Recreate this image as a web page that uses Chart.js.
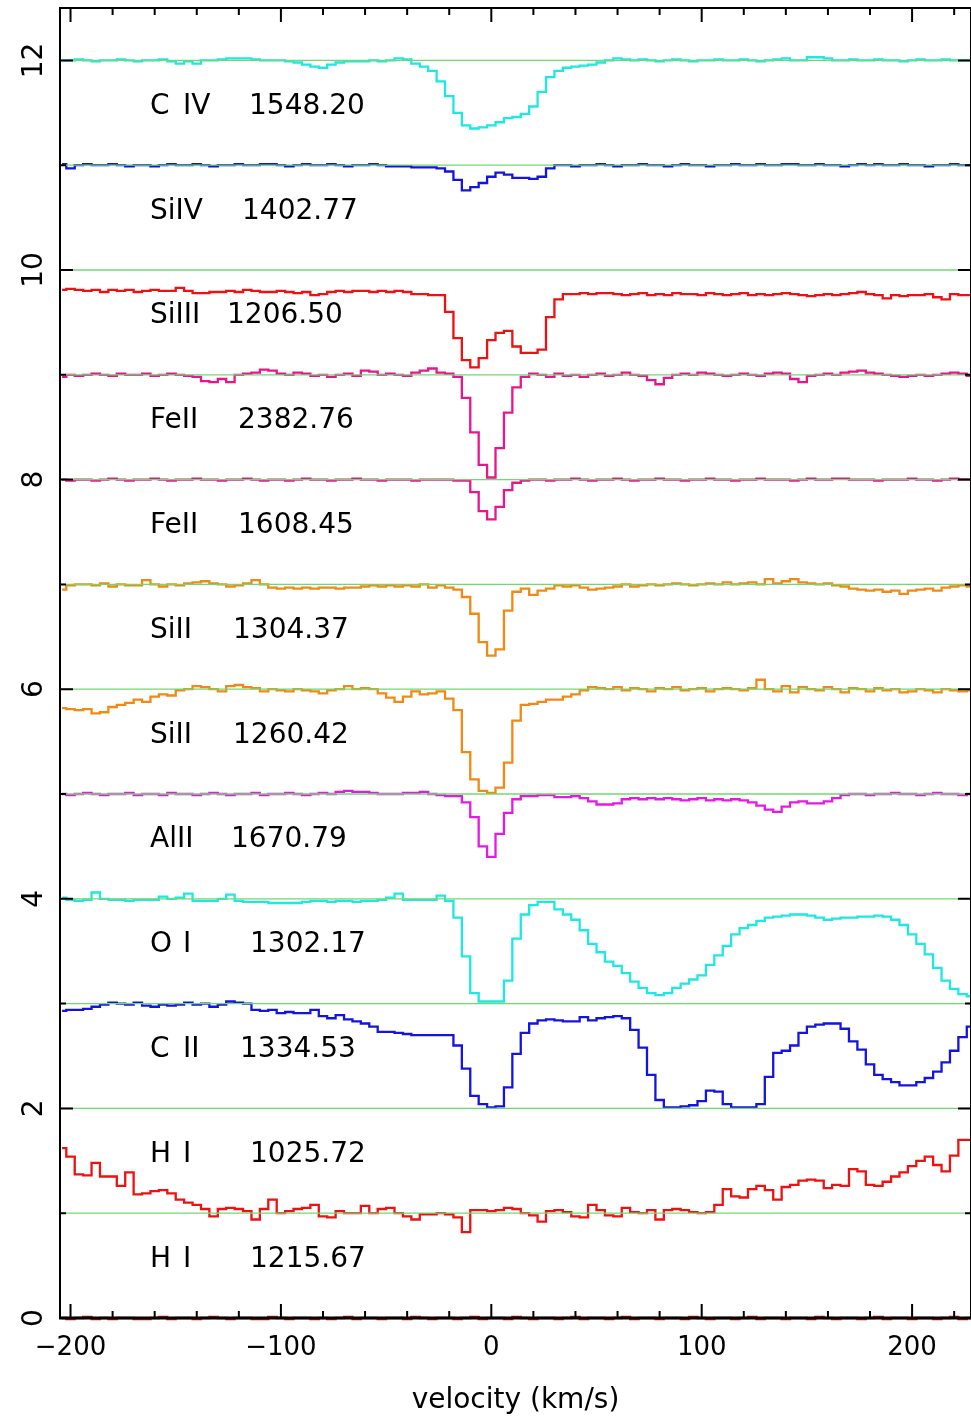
<!DOCTYPE html>
<html><head><meta charset="utf-8">
<script src="https://cdn.jsdelivr.net/npm/chart.js@4.4.1/dist/chart.umd.min.js"></script>
<style>html,body{margin:0;padding:0;background:#fff;}#c{display:block;}</style>
</head><body>
<canvas id="c" width="971" height="1416"></canvas>
<script>
// ---------------- DATA ----------------
const velocity = [-204,-200,-196,-192,-188,-184,-180,-176,-172,-168,
-164,-160,-156,-152,-148,-144,-140,-136,-132,-128,
-124,-120,-116,-112,-108,-104,-100,-96,-92,-88,
-84,-80,-76,-72,-68,-64,-60,-56,-52,-48,
-44,-40,-36,-32,-28,-24,-20,-16,-12,-8,
-4,0,4,8,12,16,20,24,28,32,
36,40,44,48,52,56,60,64,68,72,
76,80,84,88,92,96,100,104,108,112,
116,120,124,128,132,136,140,144,148,152,
156,160,164,168,172,176,180,184,188,192,
196,200,204,208,212,216,220,224,228];

const fluxCIV = [1.00,1.00,1.01,1.00,0.99,1.00,1.00,1.01,1.00,0.99,
1.00,1.00,1.01,0.99,0.97,0.99,0.97,1.00,1.00,1.01,
1.02,1.02,1.02,1.01,1.00,1.00,1.00,0.99,0.98,0.96,
0.94,0.93,0.96,0.98,0.99,0.99,0.99,1.00,0.99,1.00,
1.02,1.01,0.97,0.94,0.90,0.80,0.66,0.50,0.38,0.35,
0.36,0.38,0.41,0.45,0.46,0.49,0.56,0.70,0.84,0.90,
0.93,0.94,0.95,0.96,0.98,1.00,1.02,1.01,1.00,1.01,
1.00,0.99,1.00,1.01,1.00,0.99,1.00,1.00,1.01,1.00,
1.00,1.01,1.00,0.99,1.00,1.01,1.02,1.00,1.00,1.03,
1.03,1.02,1.00,1.00,1.01,1.00,1.00,1.01,1.00,1.00,
0.99,1.00,1.01,1.00,1.00,1.01,1.00,1.00,1.00];

const fluxSiIV = [1.01,0.97,1.00,1.01,1.00,1.00,1.01,1.00,0.99,1.00,
1.00,0.99,1.00,1.01,1.00,1.00,1.01,1.00,0.99,1.00,
1.00,1.01,1.00,1.00,1.01,1.01,1.00,0.99,1.00,1.01,
1.00,1.00,1.01,1.00,0.99,1.00,1.00,1.01,1.00,0.99,
0.99,0.99,0.98,0.98,0.98,0.97,0.94,0.86,0.76,0.79,
0.83,0.89,0.93,0.91,0.88,0.88,0.87,0.89,0.97,1.00,
1.00,0.99,1.00,1.00,1.01,1.00,0.99,1.00,1.00,1.01,
1.00,1.00,0.99,1.00,1.01,1.00,1.00,0.99,1.00,1.00,
1.01,1.00,1.00,1.01,1.00,1.00,1.01,1.01,1.00,1.00,
1.01,1.00,1.00,0.99,1.00,1.01,1.00,1.01,1.00,1.00,
1.01,1.00,1.00,0.99,1.00,1.00,1.01,1.00,1.00];

const fluxSiIII = [0.81,0.82,0.81,0.80,0.81,0.79,0.81,0.80,0.81,0.79,
0.80,0.81,0.80,0.80,0.83,0.80,0.78,0.78,0.79,0.79,
0.80,0.79,0.81,0.80,0.79,0.79,0.80,0.79,0.78,0.79,
0.76,0.77,0.79,0.80,0.79,0.80,0.80,0.79,0.80,0.79,
0.80,0.79,0.77,0.77,0.76,0.76,0.60,0.35,0.14,0.07,
0.16,0.33,0.40,0.42,0.27,0.21,0.21,0.24,0.55,0.72,
0.77,0.77,0.78,0.77,0.78,0.78,0.77,0.76,0.77,0.78,
0.76,0.77,0.76,0.78,0.77,0.77,0.76,0.78,0.77,0.76,
0.77,0.78,0.76,0.77,0.76,0.77,0.78,0.77,0.76,0.75,
0.76,0.77,0.76,0.77,0.78,0.79,0.77,0.76,0.73,0.76,
0.75,0.76,0.76,0.77,0.74,0.72,0.77,0.76,0.76];

const fluxFeII2382 = [0.98,1.00,0.99,1.00,1.01,1.00,0.99,1.01,1.00,1.00,
1.01,0.99,1.00,1.01,1.00,0.99,0.98,0.94,0.93,0.96,
0.93,1.00,1.01,1.02,1.05,1.04,1.01,1.00,1.02,1.01,
0.99,1.00,0.98,1.00,1.01,0.99,1.04,1.03,1.00,1.01,
1.00,0.99,1.02,1.04,1.06,1.02,1.01,0.98,0.78,0.45,
0.14,0.02,0.30,0.64,0.88,0.98,1.01,1.00,0.98,1.01,
0.99,1.00,0.98,1.00,1.01,0.99,1.00,1.02,1.00,0.99,
0.95,0.91,0.97,1.00,1.01,1.00,1.02,1.01,1.00,0.99,
1.00,1.01,1.00,0.99,1.01,1.02,1.01,0.96,0.93,0.99,
1.00,1.01,1.00,1.02,1.03,1.04,1.02,1.01,1.00,0.99,
0.98,0.99,1.00,0.99,1.00,1.01,1.02,1.01,0.99];

const fluxFeII1608 = [1.00,0.99,1.00,1.00,0.99,1.00,1.01,1.00,0.99,1.00,
1.00,1.01,1.00,0.99,1.00,1.00,1.01,1.00,1.00,0.99,
1.00,1.00,1.01,1.00,0.99,1.00,1.00,0.99,1.00,1.01,
1.00,1.00,0.99,1.00,1.00,1.01,1.00,1.00,0.99,1.00,
1.00,1.00,0.99,1.00,1.00,1.00,1.00,0.99,0.99,0.88,
0.70,0.62,0.74,0.90,0.97,0.99,1.00,1.00,0.99,1.00,
1.00,1.01,1.00,0.99,1.00,1.00,1.01,1.00,0.99,1.00,
1.00,1.01,1.00,1.00,0.99,1.00,1.00,1.01,1.00,1.00,
0.99,1.00,1.00,1.01,1.00,1.00,1.00,0.99,1.00,1.01,
1.00,1.00,1.01,1.01,1.00,1.00,1.00,0.99,1.00,1.00,
1.00,1.01,1.00,1.00,0.99,1.00,1.01,1.00,1.00];

const fluxSiII1304 = [0.95,0.99,1.00,1.00,0.99,1.01,0.98,1.00,0.99,0.99,
1.04,1.00,0.98,1.00,0.99,1.01,1.02,1.03,1.01,1.00,
0.98,0.99,1.01,1.04,1.00,0.97,0.96,0.97,0.96,0.97,
0.96,0.97,0.97,0.96,0.97,0.97,0.98,0.99,0.98,0.99,
0.98,0.99,0.98,1.00,0.97,0.99,0.97,0.95,0.88,0.72,
0.45,0.32,0.38,0.75,0.93,0.96,0.90,0.94,0.96,0.99,
0.98,0.99,0.97,0.95,0.96,0.97,0.98,1.00,0.98,0.99,
1.00,0.99,1.00,1.01,1.00,0.99,1.00,1.01,1.00,1.02,
1.00,1.01,1.02,1.00,1.05,1.01,1.03,1.05,1.02,1.01,
1.00,1.01,0.99,0.98,0.96,0.95,0.94,0.95,0.93,0.94,
0.91,0.94,0.95,0.96,0.94,0.97,0.98,0.99,0.98];

const fluxSiII1260 = [0.82,0.81,0.80,0.81,0.77,0.78,0.83,0.85,0.87,0.90,
0.88,0.93,0.95,0.94,0.99,1.00,1.03,1.02,1.00,0.98,
1.03,1.04,1.02,1.01,0.98,1.00,0.99,0.98,1.00,0.99,
0.98,0.96,0.99,1.00,1.03,1.00,1.01,1.00,0.96,0.92,
0.88,0.93,0.98,0.95,0.96,0.98,0.91,0.80,0.40,0.14,
0.03,0.01,0.06,0.30,0.70,0.85,0.86,0.88,0.90,0.90,
0.93,0.95,0.99,1.02,1.01,1.00,1.02,0.99,1.01,1.00,
0.98,1.01,1.00,1.02,0.99,1.00,1.01,0.98,1.00,1.01,
1.00,0.99,1.01,1.09,1.00,0.98,1.03,0.97,1.02,1.00,
0.99,1.02,1.00,0.97,1.01,1.00,0.98,1.01,0.99,1.00,
0.97,0.98,1.00,0.99,0.97,1.00,0.99,0.98,0.99];

const fluxAlII = [1.00,0.99,1.00,1.01,1.00,0.99,1.00,1.00,1.01,0.99,
1.00,1.00,0.99,1.01,1.00,1.00,0.99,1.00,1.01,1.00,
0.99,1.00,1.00,1.01,0.99,1.00,1.00,1.01,1.00,0.99,
1.00,1.01,1.00,1.02,1.03,1.02,1.02,1.01,1.00,1.00,
1.00,1.01,1.01,1.02,1.00,0.99,0.98,0.98,0.92,0.78,
0.50,0.40,0.62,0.82,0.95,0.98,0.98,0.99,0.99,0.97,
0.97,0.98,0.96,0.93,0.90,0.90,0.91,0.95,0.96,0.95,
0.96,0.95,0.96,0.95,0.94,0.95,0.96,0.94,0.95,0.94,
0.95,0.94,0.92,0.89,0.85,0.83,0.88,0.92,0.93,0.91,
0.91,0.93,0.96,0.99,1.00,1.00,0.99,1.00,1.00,1.01,
1.00,1.00,0.99,1.00,1.01,1.00,1.00,0.99,1.00];

const fluxOI = [1.01,0.99,0.98,0.99,1.06,1.00,0.99,0.99,0.98,0.99,
0.99,0.99,1.02,1.00,1.01,1.05,0.98,0.98,0.98,1.00,
1.04,0.98,0.97,0.97,0.97,0.96,0.96,0.96,0.96,0.97,
0.98,0.98,0.97,0.98,0.98,0.97,0.98,0.98,0.99,1.01,
1.05,0.99,0.99,0.99,0.99,1.03,0.98,0.82,0.45,0.10,
0.02,0.02,0.02,0.22,0.62,0.85,0.94,0.97,0.97,0.90,
0.85,0.80,0.70,0.57,0.49,0.40,0.36,0.29,0.21,0.15,
0.10,0.08,0.10,0.15,0.19,0.23,0.27,0.37,0.46,0.55,
0.66,0.72,0.75,0.79,0.82,0.83,0.84,0.85,0.85,0.84,
0.82,0.80,0.81,0.82,0.82,0.83,0.83,0.84,0.83,0.80,
0.75,0.66,0.57,0.47,0.34,0.22,0.14,0.09,0.07];

const fluxCII = [0.93,0.94,0.94,0.95,0.97,0.99,1.01,1.00,0.99,1.01,
0.98,0.97,0.99,0.98,0.99,1.01,0.99,1.00,0.97,0.99,
1.02,1.01,1.00,0.94,0.93,0.94,0.91,0.92,0.91,0.91,
0.94,0.88,0.86,0.89,0.85,0.83,0.81,0.78,0.73,0.73,
0.72,0.71,0.70,0.70,0.70,0.70,0.70,0.60,0.38,0.12,
0.04,0.01,0.02,0.20,0.52,0.72,0.81,0.84,0.85,0.84,
0.83,0.83,0.87,0.84,0.86,0.87,0.88,0.86,0.75,0.58,
0.32,0.08,0.01,0.01,0.02,0.03,0.07,0.17,0.16,0.04,
0.01,0.01,0.01,0.04,0.30,0.53,0.55,0.60,0.72,0.78,
0.80,0.81,0.81,0.76,0.64,0.56,0.42,0.32,0.28,0.25,
0.22,0.22,0.25,0.29,0.35,0.44,0.55,0.68,0.78];

const fluxHI1025 = [0.62,0.54,0.37,0.36,0.48,0.35,0.35,0.26,0.39,0.18,
0.19,0.21,0.22,0.19,0.13,0.10,0.08,0.04,-0.03,0.04,
0.05,0.04,0.02,-0.06,0.04,0.13,0.00,0.02,0.04,0.05,
0.08,-0.03,-0.04,0.02,0.00,0.00,0.07,0.00,0.04,0.05,
0.00,-0.03,-0.06,-0.01,-0.01,0.00,-0.01,-0.04,-0.18,0.03,
0.03,0.02,0.03,0.05,0.04,0.00,-0.02,-0.08,0.02,0.03,
0.01,-0.03,-0.04,0.08,0.03,-0.02,-0.03,0.05,0.01,0.00,
0.03,-0.06,0.03,0.04,0.03,0.01,0.00,0.01,0.08,0.23,
0.16,0.15,0.23,0.26,0.22,0.13,0.25,0.27,0.31,0.32,
0.31,0.24,0.27,0.26,0.42,0.40,0.27,0.26,0.30,0.35,
0.39,0.45,0.50,0.54,0.46,0.40,0.55,0.70,0.70];

const fluxHI1215 = [0.00,-0.01,0.00,0.01,-0.01,0.00,-0.01,0.00,0.00,-0.01,
-0.01,0.00,0.01,-0.01,0.00,0.00,-0.01,0.00,0.01,0.00,
-0.01,0.00,0.00,-0.01,-0.01,0.01,0.00,-0.01,0.00,0.00,
-0.01,0.00,-0.01,0.00,0.01,-0.01,0.00,0.00,-0.01,0.00,
0.00,-0.01,0.01,0.00,-0.01,0.00,0.00,-0.01,0.00,0.01,
-0.01,0.00,0.00,-0.01,0.01,0.00,-0.01,0.00,0.00,-0.01,
0.00,0.01,-0.01,0.00,0.00,-0.01,0.00,0.01,-0.01,0.00,
0.00,-0.01,0.00,0.00,-0.01,0.01,0.00,-0.01,0.00,0.00,
-0.01,0.00,0.01,-0.01,0.00,0.00,-0.01,0.00,0.00,-0.01,
0.01,0.00,-0.01,0.00,0.00,-0.01,0.00,0.01,-0.01,0.00,
0.00,-0.01,0.00,0.00,-0.01,0.00,0.01,-0.01,0.00];

const ions = ['C IV','SiIV','SiIII','FeII','FeII','SiII','SiII','AlII','O I','C II','H I','H I'];
const wavelengths = ['1548.20','1402.77','1206.50','2382.76','1608.45','1304.37','1260.42','1670.79','1302.17','1334.53','1025.72','1215.67'];
const zeroLevels = [11,10,9,8,7,6,5,4,3,2,1,0];
const continuumLevels = [1,2,3,4,5,6,7,8,9,10,11,12];
const xTickValues = [-200,-180,-160,-140,-120,-100,-80,-60,-40,-20,0,20,40,60,80,100,120,140,160,180,200,220];
const xLabelValues = [-200,-100,0,100,200];
const yTickValues = [0,1,2,3,4,5,6,7,8,9,10,11,12];
const yLabelValues = [0,2,4,6,8,10,12];

// ---------------- STYLE ----------------
const fluxes = [fluxCIV,fluxSiIV,fluxSiIII,fluxFeII2382,fluxFeII1608,fluxSiII1304,fluxSiII1260,fluxAlII,fluxOI,fluxCII,fluxHI1025,fluxHI1215];
const CYAN='#1ee8e2', BLUE='#1414e0', RED='#ee1111', PINK='#e8168c', ORANGE='#f08a14', MAG='#e41ae4';
const colors = [CYAN,BLUE,RED,PINK,PINK,ORANGE,ORANGE,MAG,CYAN,BLUE,RED,RED];
const waveX = [250,243,228,239,239,234,234,232,251,241,251,251];
const FONT = '"DejaVu Sans", sans-serif';

const datasets = [];
continuumLevels.forEach(lv => datasets.push({
  data:[{x:-205,y:lv},{x:228,y:lv}],
  borderColor:'#72d872', borderWidth:1.3, pointRadius:0, tension:0
}));
fluxes.forEach((f,k) => datasets.push({
  data: velocity.map((v,i)=>({x:v, y:zeroLevels[k]+f[i]})),
  borderColor: colors[k], borderWidth:2.3, pointRadius:0,
  stepped:'middle', clip:4
}));

const decor = {
  id:'decor',
  afterDatasetsDraw(chart){
    const {ctx, chartArea:a, scales:{x,y}} = chart;
    ctx.save();
    ctx.strokeStyle='#000';
    ctx.lineWidth=2;
    ctx.strokeRect(a.left, a.top, a.right-a.left, a.bottom-a.top);
    ctx.lineWidth=3;
    ctx.beginPath(); ctx.moveTo(a.left-1,a.bottom); ctx.lineTo(a.right,a.bottom); ctx.stroke();
    ctx.lineWidth=2;
    ctx.beginPath();
    xTickValues.forEach(t=>{
      const px=x.getPixelForValue(t);
      const len = xLabelValues.includes(t)?14:7;
      ctx.moveTo(px,a.top); ctx.lineTo(px,a.top+len);
      ctx.moveTo(px,a.bottom); ctx.lineTo(px,a.bottom-len);
    });
    yTickValues.forEach(t=>{
      const py=y.getPixelForValue(t);
      const len = yLabelValues.includes(t)?13:6;
      ctx.moveTo(a.left,py); ctx.lineTo(a.left+len,py);
      ctx.moveTo(a.right,py); ctx.lineTo(a.right-len,py);
    });
    ctx.stroke();

    ctx.fillStyle='#000';
    ctx.font='26px '+FONT; ctx.textAlign='center'; ctx.textBaseline='alphabetic';
    xLabelValues.forEach(t=>ctx.fillText(t<0?'\u2212'+Math.abs(t):String(t), x.getPixelForValue(t), a.bottom+37));
    ctx.font='28px '+FONT;
    ctx.fillText('velocity (km/s)', (a.left+a.right)/2, a.bottom+90);
    yLabelValues.forEach(t=>{
      ctx.save();
      ctx.translate(a.left-18, y.getPixelForValue(t));
      ctx.rotate(-Math.PI/2);
      ctx.textAlign='center'; ctx.textBaseline='alphabetic';
      ctx.font='28px '+FONT;
      ctx.fillText(String(t),0,0);
      ctx.restore();
    });
    ctx.font='28px '+FONT; ctx.textAlign='left'; ctx.textBaseline='alphabetic';
    ions.forEach((name,k)=>{
      const yc = y.getPixelForValue(zeroLevels[k]+0.585)+10;
      const parts = name.split(' ');
      ctx.fillText(parts[0], 150, yc);
      if(parts[1]) ctx.fillText(parts[1], 183, yc);
      ctx.fillText(wavelengths[k], waveX[k]-1, yc);
    });
    ctx.restore();
  }
};

new Chart(document.getElementById('c'), {
  type:'line',
  data:{datasets},
  options:{
    responsive:false, animation:false, devicePixelRatio:1,
    layout:{padding:{top:8,right:0,left:0,bottom:0}},
    plugins:{legend:{display:false}, tooltip:{enabled:false}},
    scales:{
      x:{type:'linear', min:-205, max:228, grid:{display:false}, border:{display:false}, ticks:{display:false},
         afterFit(s){ s.height=98; }},
      y:{type:'linear', min:0, max:12.5, grid:{display:false}, border:{display:false}, ticks:{display:false},
         afterFit(s){ s.width=60; }}
    }
  },
  plugins:[decor]
});
</script>
</body></html>
